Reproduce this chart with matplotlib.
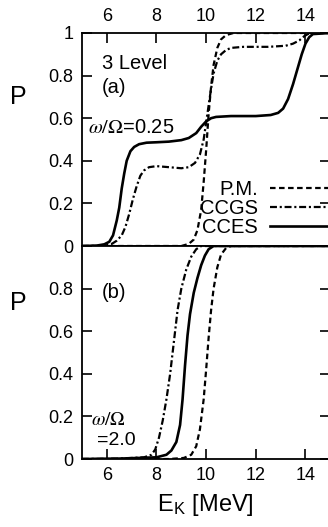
import matplotlib
matplotlib.use("Agg")
from matplotlib import pyplot as plt

plt.rcParams['font.family'] = ['Liberation Sans', 'DejaVu Sans']
plt.rcParams['mathtext.fontset'] = 'stix'
plt.rcParams['lines.scale_dashes'] = False

# panel (a): omega/Omega = 0.25
a_cces_x = [5.0, 5.6, 5.9, 6.1, 6.25, 6.4, 6.5, 6.6, 6.7, 6.8, 6.95, 7.1, 7.3, 7.6, 8.0, 8.5, 9.0,
            9.3, 9.6, 9.8, 10.0, 10.2, 10.4, 10.7, 11.0, 12.0, 12.6, 12.9, 13.1, 13.3, 13.5, 13.7,
            13.85, 14.0, 14.15, 14.3, 15.0]
a_cces_p = [0, 0.002, 0.008, 0.02, 0.05, 0.12, 0.18, 0.27, 0.34, 0.40, 0.445, 0.465, 0.478, 0.485,
            0.487, 0.49, 0.497, 0.507, 0.53, 0.56, 0.585, 0.60, 0.606, 0.608, 0.61, 0.61, 0.615,
            0.625, 0.645, 0.69, 0.76, 0.84, 0.9, 0.95, 0.98, 0.995, 1.0]

a_ccgs_x = [5.0, 5.8, 6.2, 6.4, 6.6, 6.75, 6.9, 7.05, 7.2, 7.35, 7.5, 7.7, 8.0, 8.5, 9.0, 9.3, 9.55,
            9.75, 9.9, 10.0, 10.1, 10.2, 10.3, 10.45, 10.6, 10.8, 11.0, 11.5, 12.5, 13.2, 13.5,
            13.75, 13.95, 14.1, 14.3, 15.0]
a_ccgs_p = [0, 0.001, 0.01, 0.025, 0.05, 0.09, 0.15, 0.22, 0.28, 0.33, 0.355, 0.37, 0.375, 0.37,
            0.365, 0.37, 0.39, 0.43, 0.5, 0.58, 0.66, 0.74, 0.81, 0.87, 0.9, 0.92, 0.93, 0.935,
            0.935, 0.94, 0.95, 0.965, 0.985, 0.995, 1.0, 1.0]

a_pm_x = [5.0, 9.0, 9.3, 9.5, 9.65, 9.8, 9.9, 10.0, 10.1, 10.2, 10.3, 10.45, 10.6, 10.8, 11.1, 15.0]
a_pm_p = [0, 0.0, 0.01, 0.03, 0.075, 0.17, 0.3, 0.45, 0.62, 0.75, 0.85, 0.93, 0.97, 0.99, 1.0, 1.0]

# panel (b): omega/Omega = 2.0
b_ccgs_x = [5.0, 6.5, 7.5, 7.8, 7.95, 8.1, 8.25, 8.4, 8.55, 8.7, 8.85, 9.0, 9.2, 9.4, 9.6, 9.8, 15.0]
b_ccgs_p = [0, 0.002, 0.008, 0.02, 0.045, 0.1, 0.18, 0.28, 0.4, 0.55, 0.7, 0.8, 0.89, 0.95, 0.985,
            1.0, 1.0]

b_cces_x = [5.0, 6.5, 8.0, 8.4, 8.6, 8.8, 8.95, 9.05, 9.15, 9.25, 9.35, 9.5, 9.65, 9.8, 9.95,
            10.1, 10.3, 15.0]
b_cces_p = [0, 0.002, 0.008, 0.02, 0.04, 0.08, 0.16, 0.28, 0.44, 0.58, 0.68, 0.78, 0.85, 0.91,
            0.955, 0.985, 1.0, 1.0]

b_pm_x = [5.0, 8.5, 9.1, 9.4, 9.6, 9.75, 9.9, 10.0, 10.1, 10.2, 10.3, 10.45, 10.6, 10.8, 11.0, 15.0]
b_pm_p = [0, 0.0, 0.005, 0.02, 0.06, 0.14, 0.28, 0.42, 0.57, 0.7, 0.8, 0.9, 0.96, 0.99, 1.0, 1.0]

x_ticks = [6, 8, 10, 12, 14]
y_ticks = [0, 0.2, 0.4, 0.6, 0.8, 1.0]
y_labels_a = ['0', '0.2', '0.4', '0.6', '0.8', '1']
y_labels_b = ['0', '0.2', '0.4', '0.6', '0.8', '']

DASH = (4, 2.5)
DASHDOT = (5, 2, 1.5, 2)
LW = 1.6

fig = plt.figure(figsize=(3.28, 5.27), dpi=100)
ax_a = fig.add_axes([0.25, 0.5332, 0.757, 0.4042])
ax_b = fig.add_axes([0.25, 0.129, 0.757, 0.4042])

ax_a.plot(a_pm_x, a_pm_p, color='black', lw=LW, dashes=DASH, label='P.M.')
ax_a.plot(a_ccgs_x, a_ccgs_p, color='black', lw=LW, dashes=DASHDOT, label='CCGS')
ax_a.plot(a_cces_x, a_cces_p, color='black', lw=LW + 0.3, label='CCES')

ax_b.plot(b_pm_x, b_pm_p, color='black', lw=LW, dashes=DASH)
ax_b.plot(b_ccgs_x, b_ccgs_p, color='black', lw=LW, dashes=DASHDOT)
ax_b.plot(b_cces_x, b_cces_p, color='black', lw=LW + 0.3)

for ax, labels in ((ax_a, y_labels_a), (ax_b, y_labels_b)):
    ax.set_xlim(5, 15)
    ax.set_ylim(0, 1)
    ax.set_xticks(x_ticks)
    ax.set_yticks(y_ticks)
    ax.set_yticklabels(labels)
    for s in ax.spines.values():
        s.set_linewidth(1.3)
    ax.tick_params(direction='in', length=7, width=1.2, labelsize=13, pad=6,
                   left=True, right=True)

ax_a.tick_params(axis='x', top=True, bottom=False, labeltop=True, labelbottom=False)
ax_b.tick_params(axis='x', top=False, bottom=True, labeltop=False, labelbottom=True)

leg = ax_a.legend(loc='upper right', bbox_to_anchor=(1.0, 0.31), frameon=False,
                  markerfirst=False, fontsize=14.5, handlelength=3.0, handletextpad=0.6,
                  labelspacing=0.0, borderpad=0, borderaxespad=0)

ax_a.text(0.08, 0.855, '3 Level', transform=ax_a.transAxes, fontsize=14.5,
          va='center', ha='left')
ax_a.text(0.08, 0.745, '(a)', transform=ax_a.transAxes, fontsize=14.5,
          va='center', ha='left')
ax_a.text(0.025, 0.555, r'$\omega/\Omega$=0.25', transform=ax_a.transAxes, fontsize=14.5,
          va='center', ha='left')
ax_b.text(0.08, 0.78, '(b)', transform=ax_b.transAxes, fontsize=14.5, va='center', ha='left')
ax_b.text(0.035, 0.18, r'$\omega/\Omega$', transform=ax_b.transAxes, fontsize=14,
          va='center', ha='left')
ax_b.text(0.06, 0.085, '=2.0', transform=ax_b.transAxes, fontsize=14, va='center', ha='left')

fig.text(18 / 328, 1 - 97 / 527, 'P', fontsize=18, ha='center', va='center')
fig.text(18 / 328, 1 - 303 / 527, 'P', fontsize=18, ha='center', va='center')
fig.text(205 / 328, 1 - 505 / 527, r'E$_\mathregular{K}$ [MeV]', fontsize=17,
         ha='center', va='center')

fig.savefig('out.png', dpi=100)
